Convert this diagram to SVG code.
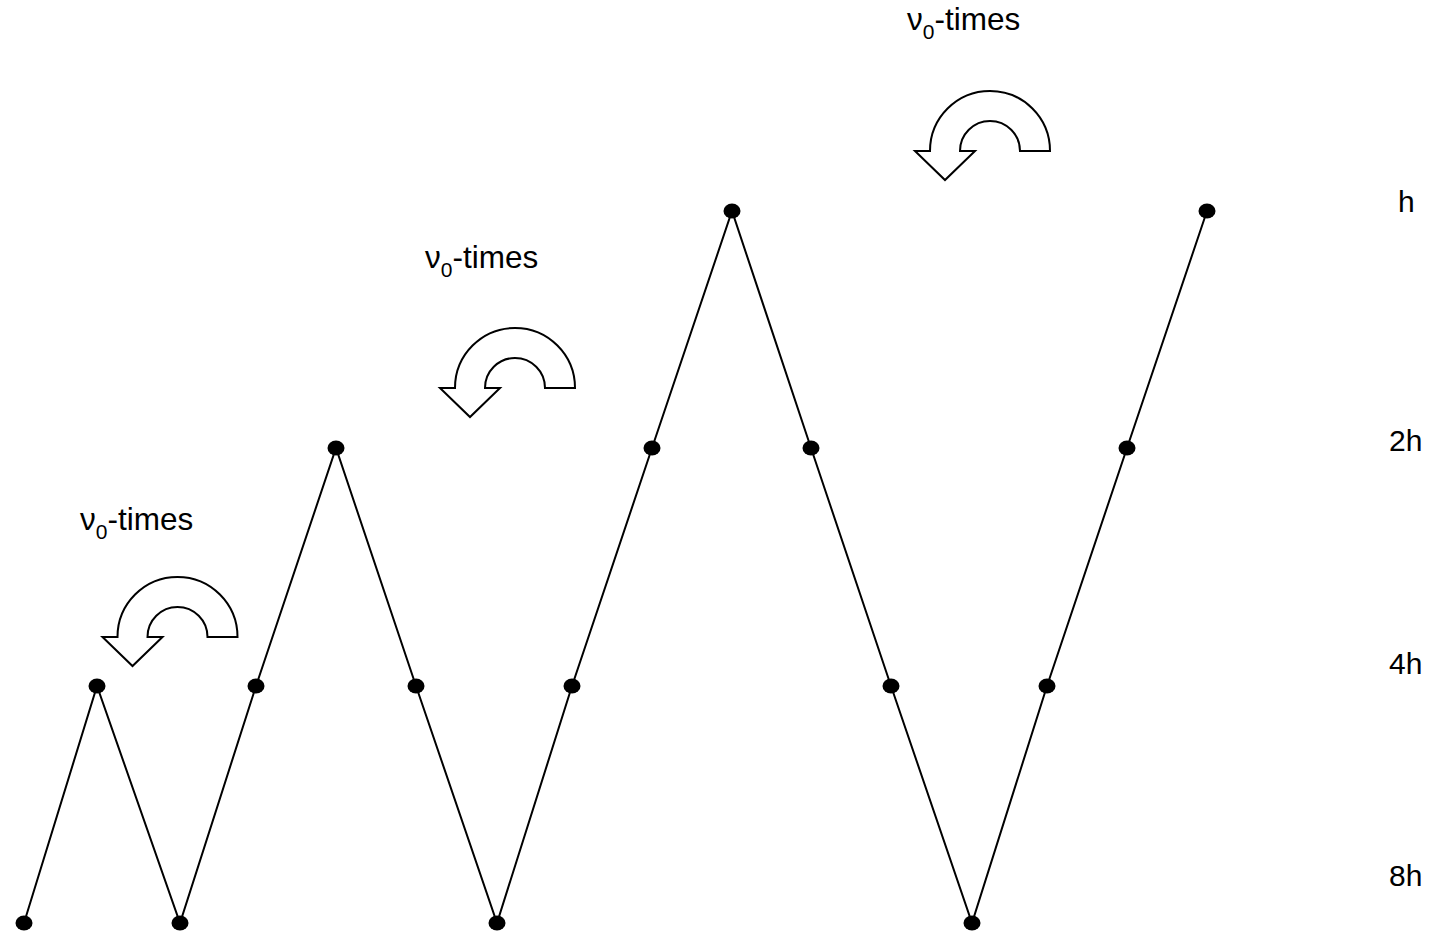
<svg xmlns="http://www.w3.org/2000/svg" xmlns:xlink="http://www.w3.org/1999/xlink" width="1434" height="932" viewBox="0 0 1434 932">
<style>
text{font-family:"Liberation Sans",Arial,sans-serif;font-size:30px;fill:#000}
.lbl{font-size:31.5px}
.sub{font-size:21px}
.zig{fill:none;stroke:#000;stroke-width:2}
.dot{fill:#000}
.turn{fill:#fff;stroke:#000;stroke-width:2;stroke-linejoin:miter}
</style>
<defs>
<path id="uturn" d="M 60,0 A 60 60 0 0 0 -60,0 L -75,0 L -45,29 L -15,0 L -30,0 A 30 30 0 0 1 30,0 Z"/>
</defs>
<rect width="1434" height="932" fill="#fff"/>
<g id="connectors">
<polyline class="zig" points="24,923 97,686 180,923 256,686 336,448 416,686 497,923 572,686 652,448 732,211 811,448 891,686 972,923 1047,686 1127,448 1207,211"/>
</g>
<g id="nodes">
<ellipse class="dot" cx="24" cy="923" rx="8.5" ry="7.5"/>
<ellipse class="dot" cx="97" cy="686" rx="8.5" ry="7.5"/>
<ellipse class="dot" cx="180" cy="923" rx="8.5" ry="7.5"/>
<ellipse class="dot" cx="256" cy="686" rx="8.5" ry="7.5"/>
<ellipse class="dot" cx="336" cy="448" rx="8.5" ry="7.5"/>
<ellipse class="dot" cx="416" cy="686" rx="8.5" ry="7.5"/>
<ellipse class="dot" cx="497" cy="923" rx="8.5" ry="7.5"/>
<ellipse class="dot" cx="572" cy="686" rx="8.5" ry="7.5"/>
<ellipse class="dot" cx="652" cy="448" rx="8.5" ry="7.5"/>
<ellipse class="dot" cx="732" cy="211" rx="8.5" ry="7.5"/>
<ellipse class="dot" cx="811" cy="448" rx="8.5" ry="7.5"/>
<ellipse class="dot" cx="891" cy="686" rx="8.5" ry="7.5"/>
<ellipse class="dot" cx="972" cy="923" rx="8.5" ry="7.5"/>
<ellipse class="dot" cx="1047" cy="686" rx="8.5" ry="7.5"/>
<ellipse class="dot" cx="1127" cy="448" rx="8.5" ry="7.5"/>
<ellipse class="dot" cx="1207" cy="211" rx="8.5" ry="7.5"/>
</g>
<g id="turn1">
<use xlink:href="#uturn" class="turn" transform="translate(177.5,637)"/>
<text class="lbl" x="80" y="530">ν<tspan class="sub" dy="9">0</tspan><tspan dy="-9">-times</tspan></text>
</g>
<g id="turn2">
<use xlink:href="#uturn" class="turn" transform="translate(515,388)"/>
<text class="lbl" x="425" y="268">ν<tspan class="sub" dy="9">0</tspan><tspan dy="-9">-times</tspan></text>
</g>
<g id="turn3">
<use xlink:href="#uturn" class="turn" transform="translate(990,151)"/>
<text class="lbl" x="907" y="30">ν<tspan class="sub" dy="9">0</tspan><tspan dy="-9">-times</tspan></text>
</g>
<g id="levels">
<text x="1398" y="212">h</text>
<text x="1389" y="451">2h</text>
<text x="1389" y="674">4h</text>
<text x="1389" y="886">8h</text>
</g>
</svg>
